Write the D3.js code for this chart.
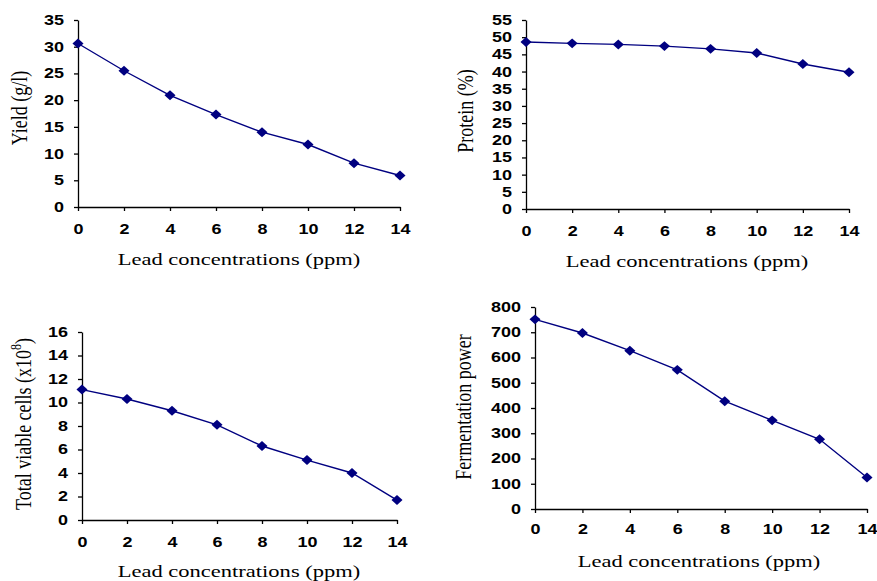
<!DOCTYPE html>
<html>
<head>
<meta charset="utf-8">
<script src="https://cdn.jsdelivr.net/npm/d3@7"></script>
<style>
  body { margin: 0; background: #fff; }
  .tick text { font-family: "Liberation Sans", Arial, sans-serif; font-weight: bold; font-size: 14px; fill: #000; }
  .axis path, .axis line { stroke: #000; stroke-width: 1.3; }
  .title { font-family: "Liberation Serif", "Times New Roman", serif; fill: #000; }
</style>
</head>
<body>
<div id="chart"></div>
<script>
// lead concentrations (ppm) on the x axis
var concentrations = [0, 2, 4, 6, 8, 10, 12, 14];

// values
var yieldValues = [30.6, 25.5, 20.9, 17.3, 14.0, 11.7, 8.2, 5.9];
var proteinValues = [48.6, 48.2, 47.9, 47.4, 46.6, 45.4, 42.2, 39.8];
var viableCellValues = [11.1, 10.3, 9.3, 8.1, 6.3, 5.1, 4.0, 1.7];
var fermentationValues = [751, 697, 627, 551, 427, 351, 276, 125];

// tick labels
var xTicks = [0, 2, 4, 6, 8, 10, 12, 14];
var yieldTicks = [0, 5, 10, 15, 20, 25, 30, 35];
var proteinTicks = [0, 5, 10, 15, 20, 25, 30, 35, 40, 45, 50, 55];
var cellTicks = [0, 2, 4, 6, 8, 10, 12, 14, 16];
var fermentationTicks = [0, 100, 200, 300, 400, 500, 600, 700, 800];

var xTitle = 'Lead concentrations (ppm)';

var width = 877;
var height = 581;
var lineColor = '#000080';
var stretch = 1.28;   // the source picture is widened horizontally
var digitWidth = 10;

var svg = d3.select('#chart').append('svg')
            .attr('width', width)
            .attr('height', height);

// panel placement: plot box in page pixels plus title anchors
var panels = [
  { values: yieldValues, ticks: yieldTicks, yTitle: 'Yield (g/l)',
    box: {left: 78, right: 400, top: 20, bottom: 207},
    xTitlePos: [239, 265], yTitlePos: [27, 108], labelGap: 28 },
  { values: proteinValues, ticks: proteinTicks, yTitle: 'Protein (%)',
    box: {left: 526, right: 849, top: 20, bottom: 209},
    xTitlePos: [687, 267], yTitlePos: [473, 111], labelGap: 28 },
  { values: viableCellValues, ticks: cellTicks, yTitle: 'Total viable cells (x10', sup: '8',
    box: {left: 82, right: 397, top: 332, bottom: 520},
    xTitlePos: [239, 577], yTitlePos: [31, 424], labelGap: 28 },
  { values: fermentationValues, ticks: fermentationTicks, yTitle: 'Fermentation power',
    box: {left: 535, right: 867, top: 307, bottom: 509},
    xTitlePos: [699, 567], yTitlePos: [471, 407], labelGap: 26 }
];

panels.forEach(function(p) {
  var ticks = p.ticks;
  var x = d3.scaleLinear()
            .domain([xTicks[0], xTicks[xTicks.length - 1]])
            .range([p.box.left, p.box.right]);
  var y = d3.scaleLinear()
            .domain([ticks[0], ticks[ticks.length - 1]])
            .range([p.box.bottom, p.box.top]);

  var g = svg.append('g');

  // y axis
  var yAxis = d3.axisLeft(y)
                .tickValues(ticks)
                .tickSizeInner(4)
                .tickSizeOuter(0)
                .tickPadding(10)
                .tickFormat(d3.format('d'));
  g.append('g').attr('class', 'axis')
   .attr('transform', 'translate(' + p.box.left + ',0)')
   .call(yAxis);

  // x axis
  var xAxis = d3.axisBottom(x)
                .tickValues(xTicks)
                .tickSizeInner(4)
                .tickSizeOuter(0)
                .tickPadding(p.labelGap - 4 - 11)
                .tickFormat(d3.format('d'));
  g.append('g').attr('class', 'axis')
   .attr('transform', 'translate(0,' + p.box.bottom + ')')
   .call(xAxis);

  g.selectAll('.tick text')
   .attr('textLength', function(d) { return String(d).length * digitWidth; })
   .attr('lengthAdjust', 'spacingAndGlyphs');

  // line + diamonds
  var points = concentrations.map(function(c, i) { return [c, p.values[i]]; });
  var lineFunc = d3.line()
                   .x(function(d) { return x(d[0]); })
                   .y(function(d) { return y(d[1]); });
  g.append('path')
   .attr('d', lineFunc(points))
   .attr('fill', 'none')
   .attr('stroke', lineColor)
   .attr('stroke-width', 1.4);

  var diamond = d3.symbol().type(d3.symbolDiamond2).size(78);
  g.selectAll('path.marker').data(points).enter()
   .append('path')
   .attr('class', 'marker')
   .attr('d', diamond)
   .attr('transform', function(d) { return 'translate(' + x(d[0]) + ',' + y(d[1]) + ') scale(1,0.9)'; })
   .attr('fill', lineColor);

  // x title
  var xt = g.append('text')
            .attr('class', 'title')
            .attr('font-size', 17.6)
            .attr('x', p.xTitlePos[0])
            .attr('y', p.xTitlePos[1])
            .attr('text-anchor', 'middle')
            .text(xTitle);
  xt.attr('textLength', xt.node().getComputedTextLength() * stretch)
    .attr('lengthAdjust', 'spacingAndGlyphs');

  // y title, rotated
  var yt = g.append('text')
            .attr('class', 'title')
            .attr('font-size', 18)
            .attr('text-anchor', 'middle')
            .attr('transform', 'translate(' + p.yTitlePos[0] + ',' + p.yTitlePos[1] + ') rotate(-90) scale(1,' + stretch + ')');
  yt.append('tspan').text(p.yTitle);
  if (p.sup) {
    yt.append('tspan').attr('font-size', 12).attr('dy', -8).text(p.sup);
    yt.append('tspan').attr('dy', 8).text(')');
  }
});
</script>
</body>
</html>
